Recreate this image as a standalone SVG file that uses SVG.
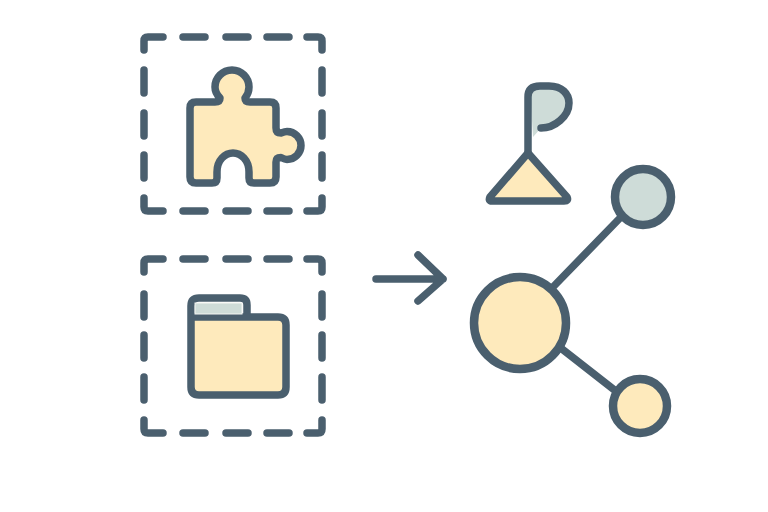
<svg xmlns="http://www.w3.org/2000/svg" width="768" height="512" viewBox="0 0 768 512">
<style>
.s{fill:none;stroke:#4a5f6e;stroke-width:7.5;stroke-linecap:round;stroke-linejoin:round}
.c{stroke-width:8.5}
.y{fill:#feeabc}
.g{fill:#cedcd8}
.h{stroke:#f4f6f2;stroke-width:1}
</style>
<rect width="768" height="512" fill="#fff"/>
<g id="box-top" class="s">
<path d="M144 50V41Q144 37 148 37H163M183 37H205M226 37H248M267 37H289M307 37H318Q322 37 322 41V50M144 70V93M144 113V136M144 155V178M144 198V207Q144 211 148 211H163M183 211H205M226 211H248M267 211H289M307 211H318Q322 211 322 207V198M322 70V93M322 113V136M322 155V178"/>
</g>
<g id="box-bottom" class="s">
<path d="M144 272V263Q144 259 148 259H163M183 259H205M226 259H248M267 259H289M307 259H318Q322 259 322 263V272M144 294V317M144 335V358M144 377V400M144 420V429Q144 433 148 433H163M183 433H205M226 433H248M267 433H289M307 433H318Q322 433 322 429V420M322 294V317M322 335V358M322 377V400"/>
</g>
<g id="puzzle">
<path class="y" stroke="#4a5f6e" stroke-width="7.500" stroke-linejoin="round" d="M196 102H215Q220 102 220 98Q215 93 215 87A17 17 0 0 1 249 87Q249 93 245 98Q245 102 250 102H270Q276 102 276 108V128Q276 133 281 133Q285 131.500 287 131.500A14 14 0 0 1 287 159.500Q285 159.500 281 157.500Q276 157.500 276 162V177Q276 183 270 183H254Q249 183 249 178V172C249 160 241 153 233 153C225 153 217 160 217 172V178Q217 183 212 183H196Q190 183 190 177V108Q190 102 196 102Z"/>
</g>
<g id="folder">
<path class="y" d="M192 318H285V394H192Z"/>
<path class="s" d="M191 317V306Q191 298 199 298H240Q247 298 247 305V317M191 317H278Q286 317 286 325V387Q286 395 278 395H199Q191 395 191 387V317Z"/>
<rect x="195" y="303" width="47" height="11" class="g h"/>
</g>
<g id="flag">
<path class="g" d="M530 88H550C565 90 570 100 567 108C563 120 550 128 541 128L533 137Z"/>
<path class="s" d="M528 153V97Q528 86 540 86H549C562 86 569 94 569 103C569 116 555 128 541 128"/>
<path class="y" stroke="#4a5f6e" stroke-width="7.500" stroke-linejoin="round" d="M528 153L490 197Q488 201 492 201H564Q569 201 567 197Z"/>
</g>
<g id="connectors" class="s">
<path d="M553 287L620 218M562 349L617 392"/>
<path d="M376 279H443M418 255L443 279L418 301"/>
</g>
<g id="node-top">
<circle cx="643" cy="197" r="28" class="g"/>
<circle cx="643" cy="197" r="24.500" fill="none" class="h"/>
<circle cx="643" cy="197" r="28" class="s c"/>
</g>
<g id="node-main">
<circle cx="520" cy="323" r="46" class="y"/>
<circle cx="520" cy="323" r="46" class="s c"/>
</g>
<g id="node-bottom">
<circle cx="640" cy="406" r="27" class="y"/>
<circle cx="640" cy="406" r="27" class="s c"/>
</g>
</svg>
